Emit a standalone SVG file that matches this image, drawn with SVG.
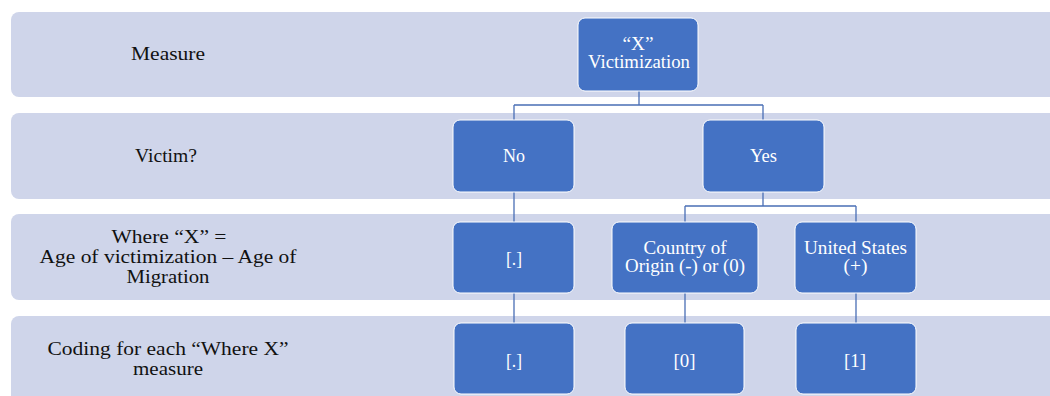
<svg xmlns="http://www.w3.org/2000/svg" width="1050" height="396" viewBox="0 0 1050 396">
<style>
.band{fill:#CFD5EA}
.box{fill:#4472C4;stroke:#FFFFFF;stroke-width:1}
.lbl{font-family:'Liberation Serif','Times New Roman',serif;font-size:18px;fill:#111111;text-anchor:middle}
.bt{font-family:'Liberation Serif','Times New Roman',serif;font-size:18px;fill:#FFFFFF;text-anchor:middle}
.con{fill:none;stroke:#4A6FB5;stroke-width:1.3}
</style>
<rect width="1050" height="396" fill="#FFFFFF"/>
<g id="bands">
<g id="band-measure"><rect class="band" x="11" y="12" width="1060" height="85" rx="8"/><text class="lbl" x="168" y="60" textLength="74" lengthAdjust="spacingAndGlyphs">Measure</text></g>
<g id="band-victim"><rect class="band" x="11" y="113" width="1060" height="86" rx="8"/><text class="lbl" x="166" y="162" textLength="62" lengthAdjust="spacingAndGlyphs">Victim?</text></g>
<g id="band-where"><rect class="band" x="11" y="214" width="1060" height="86" rx="8"/>
<text class="lbl" x="169" y="243" textLength="115" lengthAdjust="spacingAndGlyphs">Where “X” =</text>
<text class="lbl" x="168" y="263" textLength="257" lengthAdjust="spacingAndGlyphs">Age of victimization – Age of</text>
<text class="lbl" x="168" y="283" textLength="83" lengthAdjust="spacingAndGlyphs">Migration</text></g>
<g id="band-coding"><rect class="band" x="11" y="316" width="1060" height="90" rx="8"/>
<text class="lbl" x="168" y="355" textLength="241" lengthAdjust="spacingAndGlyphs">Coding for each “Where X”</text>
<text class="lbl" x="168" y="375" textLength="70" lengthAdjust="spacingAndGlyphs">measure</text></g>
</g>
<g id="connectors">
<path class="con" d="M639 91V105M514 105H763M514 105V120M763 105V120"/>
<path class="con" d="M514 192V222M514 293V323"/>
<path class="con" d="M763 192V206M685 206H856M685 206V222M856 206V222"/>
<path class="con" d="M685 293V323M856 293V323"/>
</g>
<g id="node-x"><rect class="box" x="578" y="18" width="120" height="73" rx="7"/><text class="bt" x="638" y="50" textLength="31" lengthAdjust="spacingAndGlyphs">“X”</text><text class="bt" x="639" y="68" textLength="102" lengthAdjust="spacingAndGlyphs">Victimization</text></g>
<g id="node-no"><rect class="box" x="453" y="120" width="121" height="72" rx="7"/><text class="bt" x="514" y="162" textLength="22" lengthAdjust="spacingAndGlyphs">No</text></g>
<g id="node-yes"><rect class="box" x="703" y="120" width="121" height="72" rx="7"/><text class="bt" x="763.5" y="162" textLength="27" lengthAdjust="spacingAndGlyphs">Yes</text></g>
<g id="node-dot1"><rect class="box" x="453" y="222" width="121" height="71" rx="7"/><text class="bt" x="514" y="265" textLength="16" lengthAdjust="spacingAndGlyphs">[.]</text></g>
<g id="node-origin"><rect class="box" x="612" y="222" width="146" height="71" rx="7"/><text class="bt" x="685" y="254" textLength="83" lengthAdjust="spacingAndGlyphs">Country of</text><text class="bt" x="685" y="272" textLength="120" lengthAdjust="spacingAndGlyphs">Origin (-) or (0)</text></g>
<g id="node-us"><rect class="box" x="795" y="222" width="121" height="71" rx="7"/><text class="bt" x="855.5" y="254" textLength="103" lengthAdjust="spacingAndGlyphs">United States</text><text class="bt" x="855.5" y="272" textLength="24" lengthAdjust="spacingAndGlyphs">(+)</text></g>
<g id="node-dot2"><rect class="box" x="454" y="323" width="120" height="71" rx="7"/><text class="bt" x="514" y="367" textLength="16" lengthAdjust="spacingAndGlyphs">[.]</text></g>
<g id="node-zero"><rect class="box" x="625" y="323" width="119" height="71" rx="7"/><text class="bt" x="684.5" y="367" textLength="22" lengthAdjust="spacingAndGlyphs">[0]</text></g>
<g id="node-one"><rect class="box" x="796" y="323" width="120" height="71" rx="7"/><text class="bt" x="855" y="367" textLength="22" lengthAdjust="spacingAndGlyphs">[1]</text></g>
</svg>
